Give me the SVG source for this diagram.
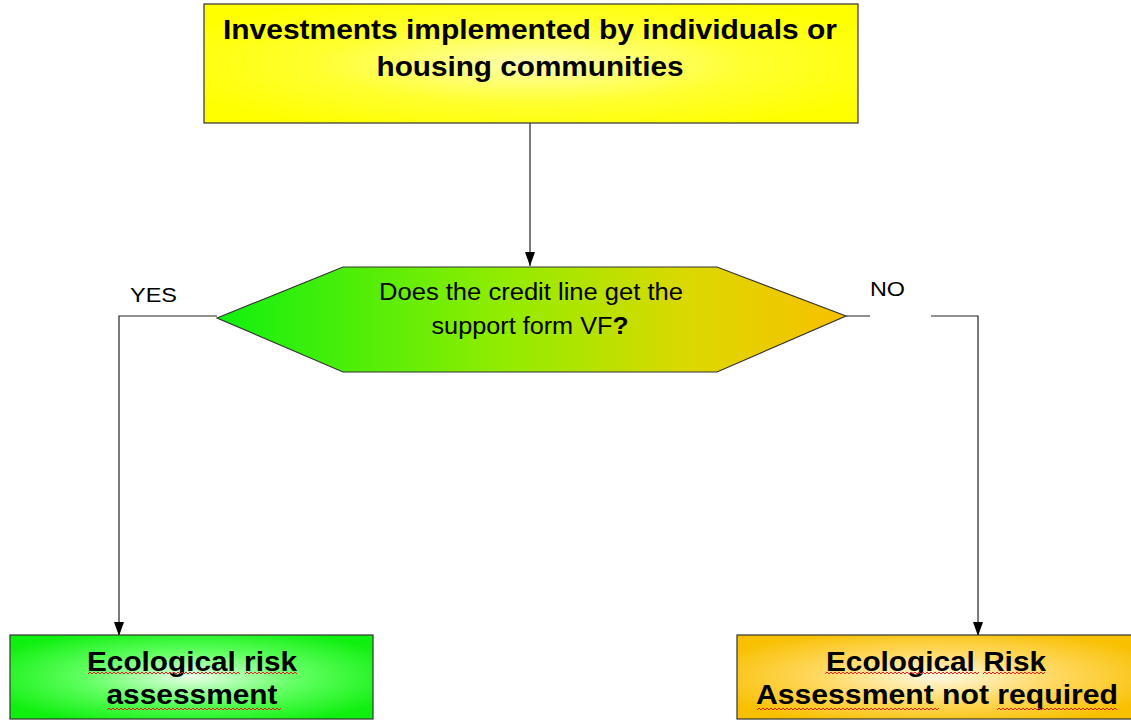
<svg xmlns="http://www.w3.org/2000/svg" width="1131" height="720" viewBox="0 0 1131 720">
  <defs>
    <radialGradient id="gradYellow" cx="50%" cy="50%" r="60%">
      <stop offset="0" stop-color="#ffffb0"/>
      <stop offset="0.55" stop-color="#ffff30"/>
      <stop offset="1" stop-color="#ffff00"/>
    </radialGradient>
    <radialGradient id="gradGreen" cx="50%" cy="50%" r="60%">
      <stop offset="0" stop-color="#e8ffe8"/>
      <stop offset="0.5" stop-color="#60ff60"/>
      <stop offset="1" stop-color="#10f010"/>
    </radialGradient>
    <radialGradient id="gradOrange" cx="50%" cy="50%" r="60%">
      <stop offset="0" stop-color="#fff8e0"/>
      <stop offset="0.5" stop-color="#ffd860"/>
      <stop offset="1" stop-color="#f8c000"/>
    </radialGradient>
    <linearGradient id="gradHex" x1="0" y1="0" x2="1" y2="0">
      <stop offset="0" stop-color="#10f010"/>
      <stop offset="0.45" stop-color="#90ec00"/>
      <stop offset="0.75" stop-color="#dcd800"/>
      <stop offset="1" stop-color="#f8c000"/>
    </linearGradient>
    <marker id="arrow" markerWidth="14" markerHeight="10" refX="14" refY="5" orient="auto" markerUnits="userSpaceOnUse" viewBox="0 0 14 10">
      <path d="M0,0 L14,5 L0,10 Z" fill="#000"/>
    </marker>
  </defs>
  <style>
    .box { stroke: #333; stroke-width: 1.2; }
    .conn { fill: none; stroke: #222; stroke-width: 1.2; }
    .title { font-family: "Liberation Sans", Arial, sans-serif; font-weight: bold; fill: #000; text-anchor: middle; }
    .q { font-family: "Liberation Sans", Arial, sans-serif; fill: #000; text-anchor: middle; }
    .lbl { font-family: "Liberation Sans", Arial, sans-serif; font-size: 20px; fill: #000; }
    .wave { fill: none; stroke: #e02020; stroke-width: 1; }
  </style>

  <rect width="1131" height="720" fill="#fff"/>

  <!-- connectors -->
  <g id="connectors">
    <path class="conn" d="M530,123 V266" marker-end="url(#arrow)"/>
    <path class="conn" d="M217,316 H119 V636" marker-end="url(#arrow)"/>
    <path class="conn" d="M846,316 H870 M931,316 H978 V636" marker-end="url(#arrow)"/>
    <text class="lbl" x="130" y="302" textLength="47" lengthAdjust="spacingAndGlyphs">YES</text>
    <text class="lbl" x="870" y="296" textLength="35" lengthAdjust="spacingAndGlyphs">NO</text>
  </g>

  <!-- start box -->
  <g id="node-investments">
    <rect class="box" x="204" y="4" width="654" height="119" fill="url(#gradYellow)"/>
    <text class="title" font-size="27" x="530" y="39" textLength="614" lengthAdjust="spacingAndGlyphs">Investments implemented by individuals or</text>
    <text class="title" font-size="27" x="530" y="76" textLength="307" lengthAdjust="spacingAndGlyphs">housing communities</text>
  </g>

  <!-- decision -->
  <g id="node-decision">
    <polygon class="box" points="217,318 343,267 717,267 846,316 717,372 343,372" fill="url(#gradHex)"/>
    <text class="q" font-size="23" x="531" y="300" textLength="304" lengthAdjust="spacingAndGlyphs">Does the credit line get the</text>
    <text class="q" font-size="23" x="530" y="334" textLength="197" lengthAdjust="spacingAndGlyphs">support form VF<tspan font-weight="bold" font-size="24">?</tspan></text>
  </g>

  <!-- outcome: yes -->
  <g id="node-assessment">
    <rect class="box" x="10" y="635" width="363" height="84" fill="url(#gradGreen)"/>
    <text class="title" font-size="27" x="192" y="671" textLength="210" lengthAdjust="spacingAndGlyphs">Ecological risk</text>
    <text class="title" font-size="27" x="192" y="704" textLength="171" lengthAdjust="spacingAndGlyphs">assessment</text>
    <path class="wave" d="M88,674 l2,-2 l2,2 l2,-2 l2,2 l2,-2 l2,2 l2,-2 l2,2 l2,-2 l2,2 l2,-2 l2,2 l2,-2 l2,2 l2,-2 l2,2 l2,-2 l2,2 l2,-2 l2,2 l2,-2 l2,2 l2,-2 l2,2 l2,-2 l2,2 l2,-2 l2,2 l2,-2 l2,2 l2,-2 l2,2 l2,-2 l2,2 l2,-2 l2,2 l2,-2 l2,2 l2,-2 l2,2 l2,-2 l2,2 l2,-2 l2,2 l2,-2 l2,2 l2,-2 l2,2 l2,-2 l2,2 l2,-2 l2,2 l2,-2 l2,2 l2,-2 l2,2 l2,-2 l2,2 l2,-2 l2,2 l2,-2 l2,2 l2,-2 l2,2 l2,-2 l2,2 l2,-2 l2,2 l2,-2 l2,2 l2,-2 l2,2 l2,-2 l2,2 l2,-2 l2,2"/>
    <path class="wave" d="M245,674 l2,-2 l2,2 l2,-2 l2,2 l2,-2 l2,2 l2,-2 l2,2 l2,-2 l2,2 l2,-2 l2,2 l2,-2 l2,2 l2,-2 l2,2 l2,-2 l2,2 l2,-2 l2,2 l2,-2 l2,2 l2,-2 l2,2 l2,-2 l2,2"/>
    <path class="wave" d="M107,710 l2,-2 l2,2 l2,-2 l2,2 l2,-2 l2,2 l2,-2 l2,2 l2,-2 l2,2 l2,-2 l2,2 l2,-2 l2,2 l2,-2 l2,2 l2,-2 l2,2 l2,-2 l2,2 l2,-2 l2,2 l2,-2 l2,2 l2,-2 l2,2 l2,-2 l2,2 l2,-2 l2,2 l2,-2 l2,2 l2,-2 l2,2 l2,-2 l2,2 l2,-2 l2,2 l2,-2 l2,2 l2,-2 l2,2 l2,-2 l2,2 l2,-2 l2,2 l2,-2 l2,2 l2,-2 l2,2 l2,-2 l2,2 l2,-2 l2,2 l2,-2 l2,2 l2,-2 l2,2 l2,-2 l2,2 l2,-2 l2,2 l2,-2 l2,2 l2,-2 l2,2 l2,-2 l2,2 l2,-2 l2,2 l2,-2 l2,2 l2,-2 l2,2 l2,-2 l2,2 l2,-2 l2,2 l2,-2 l2,2 l2,-2 l2,2 l2,-2 l2,2 l2,-2 l2,2 l2,-2"/>
  </g>

  <!-- outcome: no -->
  <g id="node-not-required">
    <rect class="box" x="737" y="635" width="400" height="84" fill="url(#gradOrange)"/>
    <text class="title" font-size="27" x="936" y="671" textLength="220" lengthAdjust="spacingAndGlyphs">Ecological Risk</text>
    <text class="title" font-size="27" x="937" y="704" textLength="362" lengthAdjust="spacingAndGlyphs">Assessment not required</text>
    <path class="wave" d="M825,674 l2,-2 l2,2 l2,-2 l2,2 l2,-2 l2,2 l2,-2 l2,2 l2,-2 l2,2 l2,-2 l2,2 l2,-2 l2,2 l2,-2 l2,2 l2,-2 l2,2 l2,-2 l2,2 l2,-2 l2,2 l2,-2 l2,2 l2,-2 l2,2 l2,-2 l2,2 l2,-2 l2,2 l2,-2 l2,2 l2,-2 l2,2 l2,-2 l2,2 l2,-2 l2,2 l2,-2 l2,2 l2,-2 l2,2 l2,-2 l2,2 l2,-2 l2,2 l2,-2 l2,2 l2,-2 l2,2 l2,-2 l2,2 l2,-2 l2,2 l2,-2 l2,2 l2,-2 l2,2 l2,-2 l2,2 l2,-2 l2,2 l2,-2 l2,2 l2,-2 l2,2 l2,-2 l2,2 l2,-2 l2,2 l2,-2 l2,2 l2,-2 l2,2 l2,-2 l2,2 l2,-2"/>
    <path class="wave" d="M983,674 l2,-2 l2,2 l2,-2 l2,2 l2,-2 l2,2 l2,-2 l2,2 l2,-2 l2,2 l2,-2 l2,2 l2,-2 l2,2 l2,-2 l2,2 l2,-2 l2,2 l2,-2 l2,2 l2,-2 l2,2 l2,-2 l2,2 l2,-2 l2,2 l2,-2 l2,2 l2,-2 l2,2 l2,-2"/>
    <path class="wave" d="M757,710 l2,-2 l2,2 l2,-2 l2,2 l2,-2 l2,2 l2,-2 l2,2 l2,-2 l2,2 l2,-2 l2,2 l2,-2 l2,2 l2,-2 l2,2 l2,-2 l2,2 l2,-2 l2,2 l2,-2 l2,2 l2,-2 l2,2 l2,-2 l2,2 l2,-2 l2,2 l2,-2 l2,2 l2,-2 l2,2 l2,-2 l2,2 l2,-2 l2,2 l2,-2 l2,2 l2,-2 l2,2 l2,-2 l2,2 l2,-2 l2,2 l2,-2 l2,2 l2,-2 l2,2 l2,-2 l2,2 l2,-2 l2,2 l2,-2 l2,2 l2,-2 l2,2 l2,-2 l2,2 l2,-2 l2,2 l2,-2 l2,2 l2,-2 l2,2 l2,-2 l2,2 l2,-2 l2,2 l2,-2 l2,2 l2,-2 l2,2 l2,-2 l2,2 l2,-2 l2,2 l2,-2 l2,2 l2,-2 l2,2 l2,-2 l2,2 l2,-2 l2,2 l2,-2 l2,2 l2,-2 l2,2 l2,-2 l2,2 l2,-2"/>
    <path class="wave" d="M997,710 l2,-2 l2,2 l2,-2 l2,2 l2,-2 l2,2 l2,-2 l2,2 l2,-2 l2,2 l2,-2 l2,2 l2,-2 l2,2 l2,-2 l2,2 l2,-2 l2,2 l2,-2 l2,2 l2,-2 l2,2 l2,-2 l2,2 l2,-2 l2,2 l2,-2 l2,2 l2,-2 l2,2 l2,-2 l2,2 l2,-2 l2,2 l2,-2 l2,2 l2,-2 l2,2 l2,-2 l2,2 l2,-2 l2,2 l2,-2 l2,2 l2,-2 l2,2 l2,-2 l2,2 l2,-2 l2,2 l2,-2 l2,2 l2,-2 l2,2 l2,-2 l2,2 l2,-2 l2,2 l2,-2 l2,2"/>
  </g>
</svg>
